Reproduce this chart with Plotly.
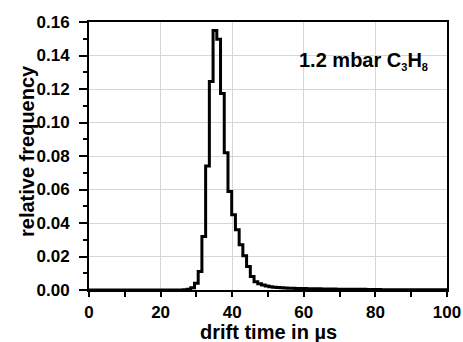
import plotly.graph_objects as go

# left edges of histogram bins (drift time in µs) and relative frequency
bin_left = [0.0, 26.34, 27.38, 28.42, 29.46, 30.50, 31.54, 32.58, 33.62, 34.66,
            35.70, 36.74, 37.78, 38.82, 39.86, 40.90, 41.94, 42.98, 44.02, 45.06,
            46.10, 47.14, 48.18, 49.22, 50.26, 51.30, 52.34, 53.38, 54.42, 55.46,
            56.50, 57.54, 58.58, 59.62, 60.66, 64.82, 68.98, 73.14, 77.30, 81.46,
            85.62, 100.0]
rel_freq = [0.0, 0.0002, 0.0004, 0.0014, 0.004, 0.011, 0.032, 0.074, 0.1245, 0.155,
            0.1497, 0.1173, 0.082, 0.0588, 0.0449, 0.0359, 0.027, 0.0204, 0.014, 0.008,
            0.005, 0.0038, 0.003, 0.0024, 0.002, 0.0017, 0.0015, 0.0013, 0.0012, 0.0011,
            0.001, 0.00095, 0.0009, 0.00085, 0.0008, 0.0006, 0.0005, 0.0004, 0.0003, 0.0002,
            0.0001, 0.0]

x_ticks = [0, 20, 40, 60, 80, 100]
y_ticks = [0.00, 0.02, 0.04, 0.06, 0.08, 0.10, 0.12, 0.14, 0.16]

FONT = "Liberation Sans"
bold20 = dict(family=FONT, size=20, color="black", weight="bold")

fig = go.Figure()
fig.add_trace(go.Scatter(
    x=bin_left, y=rel_freq, mode="lines",
    line=dict(color="black", width=3, shape="hv"),
    showlegend=False, hoverinfo="skip",
))

fig.update_layout(
    width=463, height=342,
    margin=dict(l=89, r=16, t=22, b=52, autoexpand=False),
    paper_bgcolor="white", plot_bgcolor="white",
    font=dict(family=FONT, color="black"),
    annotations=[
        dict(x=0.58, y=0.855, xref="paper", yref="paper",
             xanchor="left", yanchor="middle", showarrow=False,
             text="1.2 mbar C<sub><span style='font-size:11px'>3</span></sub>H<sub><span style='font-size:11px'>8</span></sub>",
             font=bold20),
        dict(x=0.501, y=-0.158, xref="paper", yref="paper",
             xanchor="center", yanchor="middle", showarrow=False,
             text="drift time in µs", font=bold20),
        dict(x=-0.175, y=0.52, xref="paper", yref="paper",
             xanchor="center", yanchor="middle", showarrow=False, textangle=-90,
             text="relative frequency", font=bold20),
    ],
)

fig.update_xaxes(
    range=[0, 100], tickvals=x_ticks, ticktext=[str(v) for v in x_ticks],
    showline=True, linecolor="black", linewidth=2, mirror=True,
    ticks="outside", ticklen=5, tickwidth=1.5, tickcolor="black",
    showgrid=True, gridcolor="#d6d6d6", gridwidth=1,
    minor=dict(dtick=10, ticks="outside", ticklen=5, tickwidth=1.5, tickcolor="black", showgrid=False),
    tickfont=dict(family=FONT, size=17, weight="bold"),
    ticklabelstandoff=1, automargin=False,
    zeroline=False,
)
fig.update_yaxes(
    range=[0, 0.16], tickvals=y_ticks, ticktext=[f"{v:.2f}" for v in y_ticks],
    showline=True, linecolor="black", linewidth=2, mirror=True,
    ticks="outside", ticklen=8, tickwidth=1.5, tickcolor="black",
    showgrid=True, gridcolor="#d6d6d6", gridwidth=1,
    minor=dict(dtick=0.01, ticks="outside", ticklen=4, tickwidth=1.5, tickcolor="black", showgrid=False),
    tickfont=dict(family=FONT, size=17, weight="bold"),
    ticklabelstandoff=6, automargin=False,
    zeroline=False,
)

fig.write_html("out.html")
